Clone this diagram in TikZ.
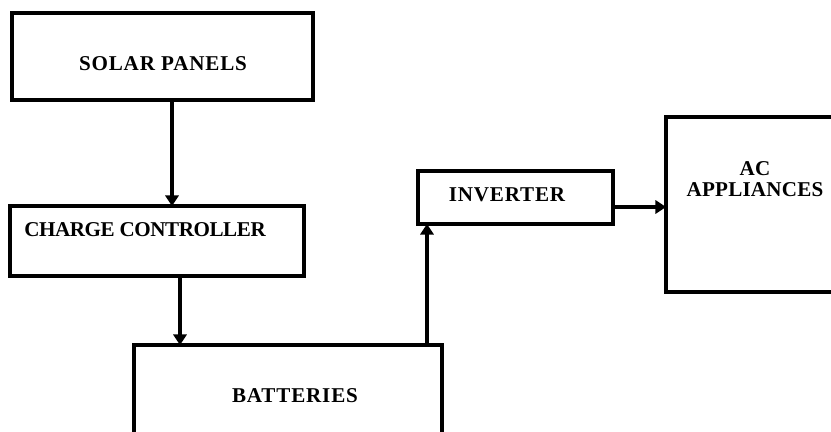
\documentclass[tikz,border=0pt]{standalone}
\usepackage{fontspec}
\setmainfont{Liberation Serif}
\newfontfamily\lblfont[LetterSpace=4]{Liberation Serif}
\newfontfamily\tightfont[LetterSpace=-2]{Liberation Serif}
\newfontfamily\midfont[LetterSpace=1]{Liberation Serif}
\usetikzlibrary{arrows.meta}

\begin{document}
\begin{tikzpicture}[x=0.02cm, y=-0.02cm,
  box/.style={draw, line width=1.9pt, inner sep=0pt, outer sep=0pt},
  lbl/.style={inner sep=0pt, font=\lblfont\bfseries\fontsize{12}{12}\selectfont},
  arr/.style={line width=1.9pt, -{Triangle[length=6pt, width=7.5pt]}}]
  \useasboundingbox (0,0) rectangle (831,432);
  \clip (0,0) rectangle (831,432);
  % boxes
  \node[box, minimum width=6.02cm, minimum height=1.74cm] (solar) at (162.5,56.5) {};
  \node[box, minimum width=5.88cm, minimum height=1.40cm] (charge) at (157,241) {};
  \node[box, minimum width=6.16cm, minimum height=2.10cm] (batt) at (288,397.5) {};
  \node[box, minimum width=3.90cm, minimum height=1.06cm] (inv) at (515.5,197.5) {};
  \node[box, minimum width=3.48cm, minimum height=3.50cm] (ac) at (753,204.5) {};
  % labels
  \node[lbl] (solarlbl) at (163,64) {SOLAR PANELS};
  \node[lbl, font=\tightfont\bfseries\fontsize{12}{12}\selectfont] (chargelbl) at (145,230) {CHARGE CONTROLLER};
  \node[lbl] (battlbl) at (295,396) {BATTERIES};
  \node[lbl] (invlbl) at (507,195) {INVERTER};
  \node[lbl, font=\midfont\bfseries\fontsize{12}{12}\selectfont, align=center] (aclbl) at (755,179) {AC\\APPLIANCES};
  % connectors
  \coordinate (sx) at (172,0);
  \coordinate (cx) at (180,0);
  \coordinate (bx) at (427,0);
  \coordinate (iy) at (0,207);
  \draw[arr] (solar.south -| sx) -- (charge.north -| sx);
  \draw[arr] (charge.south -| cx) -- (batt.north -| cx);
  \draw[arr] (batt.north -| bx) -- (inv.south -| bx);
  \draw[arr] (inv.east |- iy) -- (ac.west |- iy);
\end{tikzpicture}
\end{document}
